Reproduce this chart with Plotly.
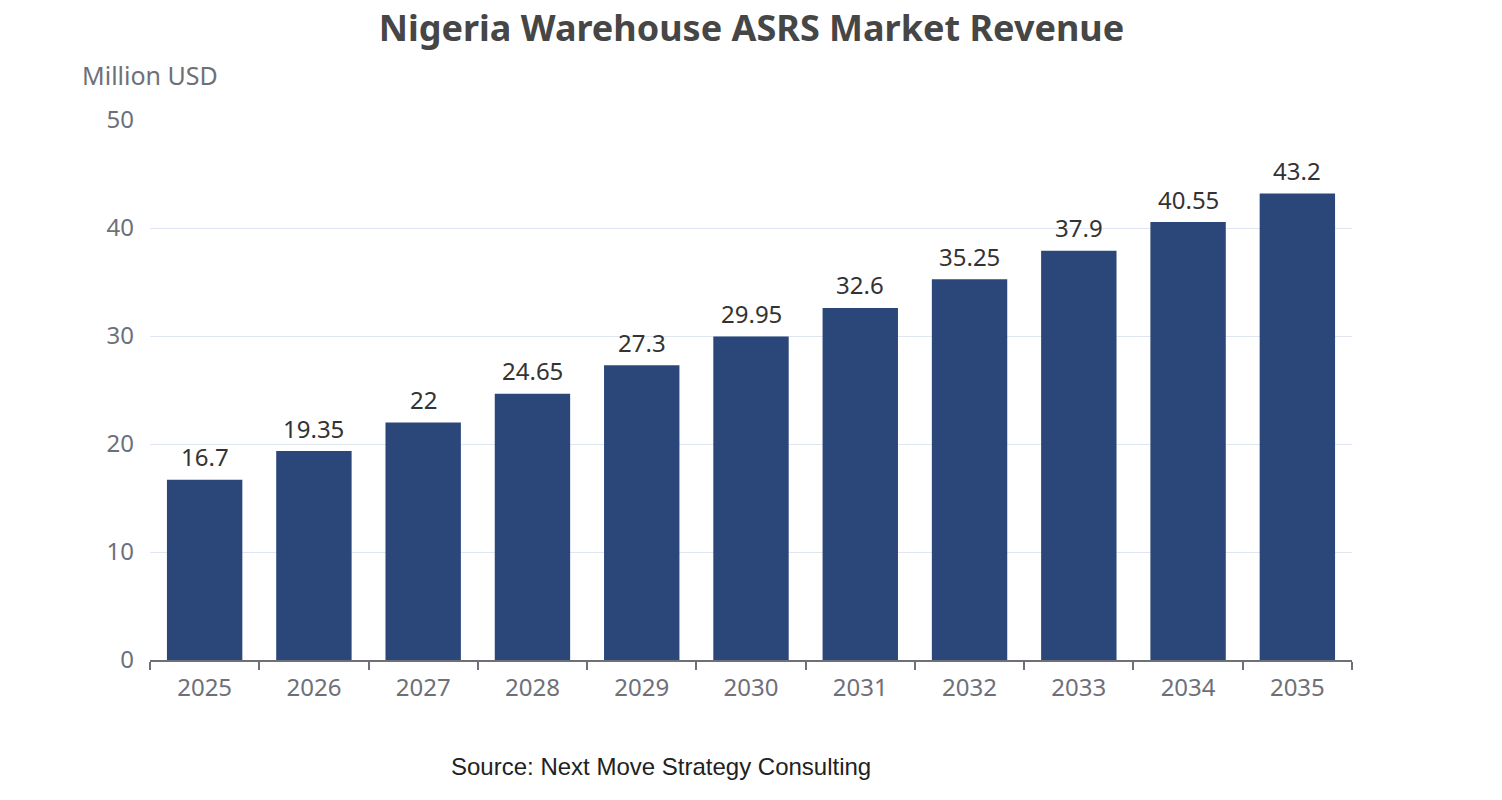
import plotly.graph_objects as go

# Jahre und Umsatz (Mio. USD)
years = ["2025", "2026", "2027", "2028", "2029", "2030", "2031", "2032", "2033", "2034", "2035"]
revenue = [16.7, 19.35, 22, 24.65, 27.3, 29.95, 32.6, 35.25, 37.9, 40.55, 43.2]
y_ticks = [0, 10, 20, 30, 40, 50]

fig = go.Figure()
fig.add_trace(go.Bar(x=years, y=revenue, marker=dict(color='#2B477A', line=dict(width=0))))

# Werte über den Balken (x = Kategorie-Index)
labels = [dict(x=i, y=v, text=f'{v:g}', showarrow=False, yanchor='middle', yshift=23,
               font=dict(family='Noto Sans', size=24, color='#333333'))
          for i, v in enumerate(revenue)]

fig.update_layout(
    width=1502, height=800,
    paper_bgcolor='white', plot_bgcolor='white',
    margin=dict(l=142, r=158, t=112, b=148),
    bargap=0.31,
    showlegend=False,
    title=dict(text='<b>Nigeria Warehouse ASRS Market Revenue</b>', x=0.495, xanchor='center', y=0.975, yanchor='middle',
               font=dict(family='Noto Sans', size=36, color='#464646')),
    xaxis=dict(type='category', showline=True, linecolor='#6E7079', linewidth=2, ticks='outside',
               tickson='boundaries', ticklen=8, tickcolor='#6E7079', tickwidth=2, ticklabelstandoff=5,
               tickfont=dict(family='Noto Sans', size=24, color='#6E7079'), showgrid=False),
    yaxis=dict(range=[0, 50], tickvals=y_ticks, showgrid=True, gridcolor='#E0E6F1', gridwidth=1,
               zeroline=False, showline=False, ticks='', ticklabelstandoff=15,
               tickfont=dict(family='Noto Sans', size=24, color='#6E7079')),
    annotations=labels + [
        dict(text='Million USD', xref='paper', yref='paper', x=-0.0582, y=1.083, xanchor='left', yanchor='middle',
             showarrow=False, font=dict(family='Noto Sans', size=25, color='#6E7079')),
        dict(text='Source: Next Move Strategy Consulting', xref='paper', yref='paper', x=0.425, y=-0.198,
             xanchor='center', yanchor='middle', showarrow=False,
             font=dict(family='Liberation Sans', size=24, color='#222222')),
    ],
)

fig.write_html("out.html")
